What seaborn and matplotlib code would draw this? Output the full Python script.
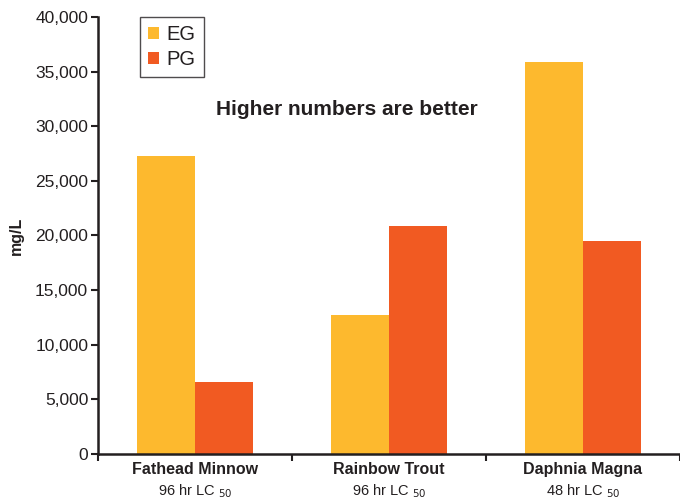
import pandas as pd
import numpy as np
import seaborn as sns
import matplotlib.pyplot as plt
from matplotlib.ticker import FuncFormatter, FixedLocator

# Datos
species = ['Fathead Minnow', 'Rainbow Trout', 'Daphnia Magna']
tests = ['96 hr LC', '96 hr LC', '48 hr LC']
eg_values = [27300, 12700, 35900]
pg_values = [6600, 20900, 19500]
glycols = ['EG', 'PG']

df = pd.DataFrame({
    'species': species * 2,
    'glycol': ['EG'] * 3 + ['PG'] * 3,
    'mgL': eg_values + pg_values,
})

sns.set_style('white')
plt.rcParams['font.family'] = ['Liberation Sans', 'DejaVu Sans']
text_color = '#231f20'

fig = plt.figure(figsize=(6.8, 5.01), dpi=100)
ax = fig.add_axes([0.144, 0.094, 0.856, 0.872])

sns.barplot(data=df, x='species', y='mgL', hue='glycol', hue_order=glycols,
            palette=['#fdb92e', '#f15a22'], width=0.6, saturation=1,
            linewidth=0, ax=ax, legend=True)

ax.set_xlim(-0.5, 2.5)
ax.set_ylim(0, 40000)
ax.set_yticks(np.arange(0, 40001, 5000))
ax.yaxis.set_major_formatter(FuncFormatter(lambda v, p: f'{int(v):,}'))
ax.tick_params(axis='y', direction='out', length=5, width=1.5, colors=text_color,
               labelsize=12.5, pad=2, left=True)

# etiquetas en el centro, marcas en los limites de categoria
ax.set_xticks([0, 1, 2])
ax.set_xticklabels(species, fontweight='bold', fontsize=11.5, color=text_color)
ax.tick_params(axis='x', which='major', length=0, pad=6)
ax.xaxis.set_minor_locator(FixedLocator([-0.5, 0.5, 1.5, 2.5]))
ax.tick_params(axis='x', which='minor', direction='out', length=5, width=1.5,
               colors=text_color, bottom=True)

for i, t in enumerate(tests):
    ax.text(i, -0.085, t + r' $_{50}$', transform=ax.get_xaxis_transform(),
            ha='center', va='center', fontsize=10.5, color=text_color)

for s in ['top', 'right']:
    ax.spines[s].set_visible(False)
for s in ['left', 'bottom']:
    ax.spines[s].set_color(text_color)
    ax.spines[s].set_linewidth(1.8)

ax.set_xlabel('')
ax.set_ylabel('mg/L', fontweight='bold', fontsize=11.5, color=text_color, labelpad=8)

ax.text(0.428, 0.788, 'Higher numbers are better', transform=ax.transAxes,
        ha='center', va='center', fontsize=15, fontweight='bold', color=text_color)

leg = ax.legend(loc='upper left', bbox_to_anchor=(0.066, 1.01), fontsize=14.5,
                frameon=True, fancybox=False, handlelength=0.55, handleheight=0.55,
                handletextpad=0.35, borderpad=0.4, labelspacing=0.3,
                borderaxespad=0.2)
leg.get_frame().set_edgecolor(text_color)
leg.get_frame().set_linewidth(1.0)
for t in leg.get_texts():
    t.set_color(text_color)

fig.savefig('out.png', dpi=100)
